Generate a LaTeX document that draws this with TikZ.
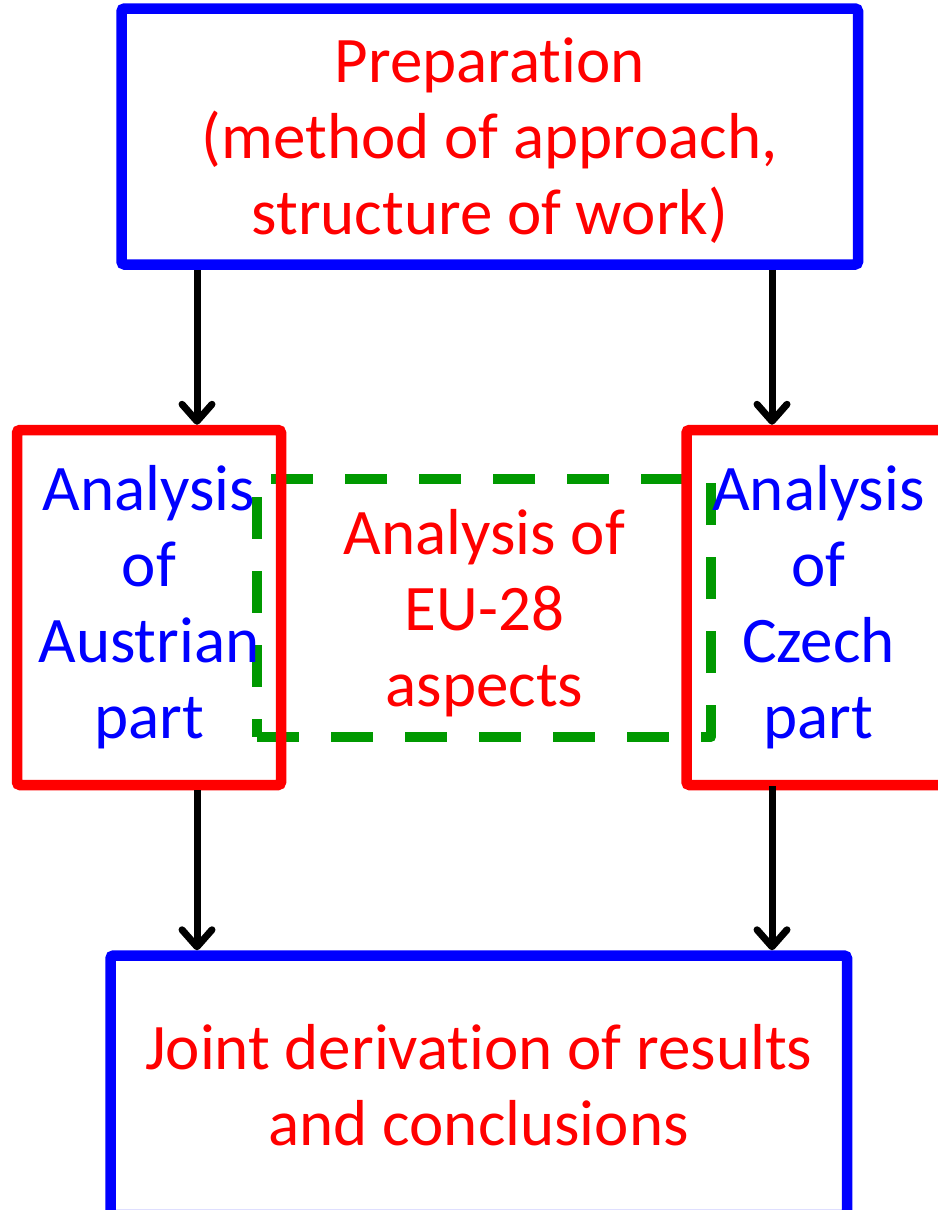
\documentclass[tikz,border=0pt]{standalone}
\usepackage{fontspec}
\setmainfont{Carlito}[Ligatures=NoCommon]
\usetikzlibrary{arrows.meta}
\definecolor{bblue}{RGB}{0,0,255}
\definecolor{rred}{RGB}{255,0,0}
\definecolor{ggreen}{RGB}{0,153,0}
\newcommand{\nolig}{\kern0pt }
\begin{document}
\begin{tikzpicture}[x=1pt,y=-1pt,
  bigfont/.style={font=\fontsize{65}{76}\selectfont},
  box/.style={draw, line width=10.5pt, rounded corners=3pt, inner sep=0pt, align=center, bigfont},
  bluebox/.style={box, draw=bblue, text=rred, minimum width=736.5pt},
  redbox/.style={box, draw=rred, text=bblue, minimum width=264pt, minimum height=355pt},
  flow/.style={draw=black, line width=7pt, -{Straight Barb[length=17pt, width=30pt, round]}},
  dashbox/.style={draw=ggreen, line width=10pt, dash pattern=on 42pt off 32pt, line join=round}
]
\useasboundingbox (0,0) rectangle (937,1210);

% green dashed frame (behind the red boxes)
\draw[dashbox] (257,737) -- (711,737) -- (711,479) -- (257,479) -- cycle;
\node[bigfont, text=rred, align=center, inner sep=0pt] (eu) at (484.5,613) {Analysis of\\EU-28\\aspects};

\node[bluebox, minimum height=256pt, text depth=0pt] (prep) at (489.75,136.5)
  {Preparat\nolig ion\\(method of approach,\\structure of work)};
\node[redbox] (aut) at (149,607.5) {Analysis\\of\\Austrian\\part};
\node[redbox] (cze) at (818.5,607.5) {Analysis\\of\\Czech\\part};
\node[bluebox, minimum height=259.5pt] (joint) at (478.75,1085.25)
  {Joint derivat\nolig ion of results\\and conclusions};

\coordinate (xl) at (197,0);
\coordinate (xr) at (772,0);

\draw[flow] (prep.south -| xl) -- (aut.north -| xl);
\draw[flow] (prep.south -| xr) -- (cze.north -| xr);
\draw[flow] (aut.south -| xl) -- (joint.north -| xl);
\draw[flow] ([yshift=4pt]cze.south -| xr) -- (joint.north -| xr);
\end{tikzpicture}
\end{document}
